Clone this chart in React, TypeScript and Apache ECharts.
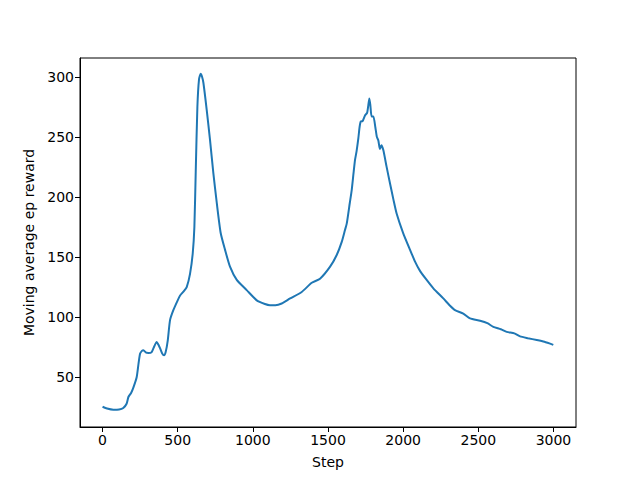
import React, { useEffect, useRef } from "react";
import * as echarts from "echarts";

const steps = [
  0, 30, 72, 110, 138, 160, 172, 190, 205, 227, 240, 250, 262, 272, 290, 305, 327, 345, 360, 372, 383, 396, 409, 420, 434, 449, 471, 500,
  516, 540, 560, 582, 600, 611, 620, 631, 642, 653, 662, 671, 693, 715, 737, 760, 786, 815, 848, 893, 959, 1026, 1080, 1114, 1150, 1192,
  1248, 1325, 1392, 1447, 1514, 1558, 1592, 1613, 1625, 1645, 1658, 1670, 1680, 1690, 1702, 1710, 1718, 1730, 1747, 1760, 1768, 1775, 1782,
  1790, 1802, 1815, 1825, 1835, 1845, 1855, 1868, 1890, 1913, 1935, 1957, 2000, 2046, 2080, 2112, 2150, 2201, 2267, 2312, 2345, 2400, 2445,
  2512, 2560, 2600, 2650, 2689, 2740, 2778, 2830, 2889, 2940, 2999
];

const rewards = [
  25.5, 24, 23, 23.2, 24.5, 28, 33.6, 37, 41.4, 50, 62, 69.7, 72, 72.5, 70.5, 70.3, 71, 76, 79.4, 77, 74, 70, 68.3, 71, 80.8, 97.5, 105.8, 114,
  118, 121.5, 125, 136, 153, 175, 221, 275, 298, 302.5, 300, 295, 272.5, 247.5, 220, 195, 170, 156, 142, 131, 122.5, 114, 111, 110, 110, 111.4,
  115.6, 121, 128.6, 132, 142, 151.7, 162.8, 172.5, 178, 195, 206, 220, 231, 238, 249, 258, 262.8, 263, 268, 270, 276, 282, 276,
  267, 267, 258, 250, 247, 240, 243, 239, 225, 211, 198, 186, 170, 156, 146, 138.5, 132, 124, 115.6, 109.5, 105.8, 103, 99,
  97, 95, 92, 90, 87.8, 86.5, 84, 82.5, 81, 79.5, 77
];

const xTicks = [0, 500, 1000, 1500, 2000, 2500, 3000];
const yTicks = [50, 100, 150, 200, 250, 300];

export default function App() {
  const ref = useRef<HTMLDivElement>(null);
  useEffect(() => {
    if (!ref.current) return;
    const chart = echarts.init(ref.current, null, { renderer: "svg" });
    const font = "DejaVu Sans";
    chart.setOption({
      animation: false,
      backgroundColor: "#ffffff",
      grid: {
        left: 80,
        right: 64,
        top: 58,
        bottom: 53,
        show: true,
        borderColor: "#000000",
        borderWidth: 1,
      },
      xAxis: {
        type: "value",
        min: -150,
        max: 3150,
        name: "Step",
        nameLocation: "middle",
        nameGap: 28,
        nameTextStyle: { color: "#000", fontFamily: font, fontSize: 14 },
        splitLine: { show: false },
        axisLine: { show: true, onZero: false, lineStyle: { color: "#000", width: 1 } },
        axisTick: { show: true, length: 5, customValues: xTicks, lineStyle: { color: "#000" } },
        axisLabel: {
          customValues: xTicks,
          color: "#000",
          fontFamily: font,
          fontSize: 14,
          margin: 6,
          formatter: (v: number) => String(v),
        },
      },
      yAxis: {
        type: "value",
        min: 8.65,
        max: 315.6,
        name: "Moving average ep reward",
        nameLocation: "middle",
        nameGap: 44,
        nameTextStyle: { color: "#000", fontFamily: font, fontSize: 14 },
        splitLine: { show: false },
        axisLine: { show: true, onZero: false, lineStyle: { color: "#000", width: 1 } },
        axisTick: { show: true, length: 5, customValues: yTicks, lineStyle: { color: "#000" } },
        axisLabel: {
          customValues: yTicks,
          color: "#000",
          fontFamily: font,
          fontSize: 14,
          margin: 6,
          formatter: (v: number) => String(v),
        },
      },
      series: [
        {
          type: "line",
          data: steps.map((s, i) => [s, rewards[i]]),
          showSymbol: false,
          smooth: 0.2,
          lineStyle: { color: "#1f77b4", width: 2 },
        },
      ],
    });
    return () => chart.dispose();
  }, []);
  return <div ref={ref} style={{ width: 640, height: 480, position: "absolute", left: 0, top: 0 }} />;
}
